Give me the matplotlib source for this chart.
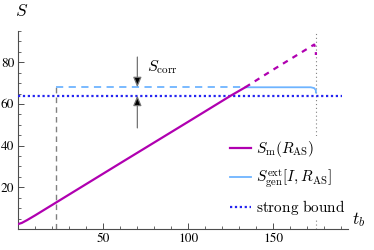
import numpy as np
import matplotlib
matplotlib.use("Agg")
import matplotlib.pyplot as plt
from matplotlib.ticker import MultipleLocator

plt.rcParams['font.family'] = ['STIXGeneral', 'DejaVu Serif']
plt.rcParams['mathtext.fontset'] = 'cm'

# S_m(R_AS): solid part, then dashed continuation
sm_t = [0, 2, 5, 10, 22, 60, 100, 125, 133.5]
sm_S = [2.4, 2.9, 4.2, 6.6, 12.6, 31.6, 51.5, 64, 68]
sm_dash_t = [133.5, 150, 172, 174, 175, 175]
sm_dash_S = [68, 76.5, 87.5, 88.5, 86, 83.5]

# S_gen^ext[I, R_AS]: dashed, then solid
gen_dash_t = [22, 133.5]
gen_dash_S = [68, 68]
gen_t = [133.5, 172, 174, 175, 175]
gen_S = [68, 68, 67.6, 66.6, 65.5]

strong_bound = 64
t_page = 22
t_end = 175

fig = plt.figure(figsize=(3.74, 2.5), dpi=100)
ax = fig.add_axes([0.049, 0.084, 0.882, 0.792])

purple = '#B000B0'
lblue = '#6EB4FF'
blue = '#2424F0'

ax.plot(sm_t, sm_S, color=purple, lw=1.6, label=r'$S_{\rm m}(R_{\rm AS})$', zorder=4)
ax.plot(sm_dash_t, sm_dash_S, color=purple, lw=1.6, ls=(0, (2.5, 2.5)), zorder=4)
ax.plot(gen_dash_t, gen_dash_S, color=lblue, lw=1.3, ls=(0, (4, 3)), zorder=3)
ax.plot(gen_t, gen_S, color=lblue, lw=1.3, label=r'$S^{\rm ext}_{\rm gen}[I,R_{\rm AS}]$', zorder=3)
ax.axhline(strong_bound, xmax=0.98, color=blue, lw=1.6, ls=(0, (1, 1.2)),
           label=r'$\mathrm{strong\ bound}$', zorder=3)

ax.plot([t_page, t_page], [0, gen_dash_S[0]], color='0.5', lw=1.0, ls=(0, (4, 3)), zorder=2)
ax.plot([t_end, t_end], [0, 95], color='0.5', lw=0.8, ls=(0, (1, 2.5)), zorder=1)

# S_corr arrows
ax.annotate('', xy=(70, gen_dash_S[0]), xytext=(70, 82.5),
            arrowprops=dict(arrowstyle='-|>,head_length=0.6,head_width=0.25', ec='0.45', fc='k', lw=0.9, shrinkA=0, shrinkB=0))
ax.annotate('', xy=(70, strong_bound), xytext=(70, 48.5),
            arrowprops=dict(arrowstyle='-|>,head_length=0.6,head_width=0.25', ec='0.45', fc='k', lw=0.9, shrinkA=0, shrinkB=0))
ax.text(75.5, 77.5, r'$S_{\rm corr}$', fontsize=11.5, va='center', ha='left')

ax.set_xlim(0, 194)
ax.set_ylim(0, 95)
for s in ['top', 'right']:
    ax.spines[s].set_visible(False)
for s in ['left', 'bottom']:
    ax.spines[s].set_color('0.3')
    ax.spines[s].set_linewidth(0.8)

ax.xaxis.set_minor_locator(MultipleLocator(10))
ax.yaxis.set_minor_locator(MultipleLocator(5))
ax.set_xticks([50, 100, 150])
ax.set_yticks([20, 40, 60, 80])
ax.tick_params(which='both', direction='in', colors='0.3', labelcolor='black', labelsize=9.5)
ax.tick_params(which='major', length=4.5, width=0.7, pad=3)
ax.tick_params(which='minor', length=2.5, width=0.6)

ax.text(-0.01, 1.095, r'$S$', transform=ax.transAxes, fontsize=12.5, ha='left', va='center')
ax.text(1.012, 0.05, r'$t_b$', transform=ax.transAxes, fontsize=12.5, ha='left', va='center')

leg = ax.legend(loc='upper left', bbox_to_anchor=(0.633, 0.47), frameon=True, fontsize=11,
                handlelength=1.35, handletextpad=0.35, labelspacing=0.55, borderpad=0.2,
                borderaxespad=0)
leg.get_frame().set_facecolor('white')
leg.get_frame().set_edgecolor('none')
leg.get_frame().set_alpha(1)

fig.savefig('out.png', dpi=100)
